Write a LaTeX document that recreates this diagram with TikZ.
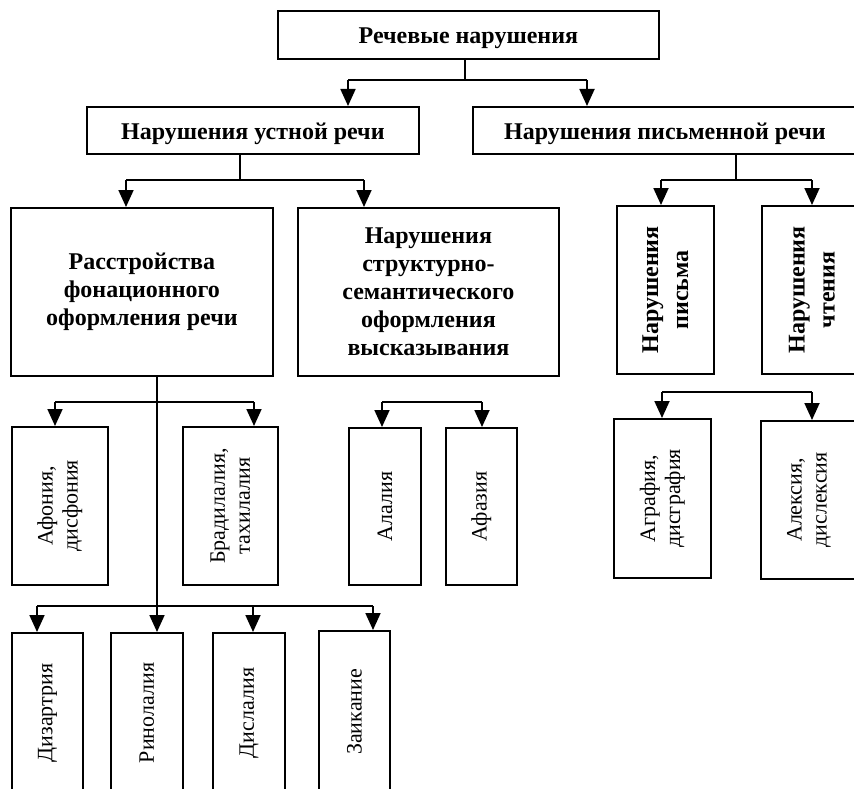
\documentclass[tikz,border=0pt]{standalone}
\usepackage{fontspec}
\setmainfont{Liberation Serif}
\usetikzlibrary{arrows.meta}
\begin{document}
\begin{tikzpicture}[x=1pt,y=-1pt,
  box/.style={draw, line width=1.8pt, inner sep=0pt, anchor=north west},
  conn/.style={line width=1.8pt},
  arr/.style={line width=1.8pt, -{Triangle[width=15pt,length=17pt]}},
  bt/.style={font=\bfseries\fontsize{24}{28}\selectfont, align=center},
  bt1/.style={bt, yshift=-3pt},
  rbt/.style={font=\bfseries\fontsize{24}{30}\selectfont, align=center, rotate=90},
  rt/.style={font=\fontsize{22}{25}\selectfont, align=center, rotate=90},
]
\useasboundingbox (0,0) rectangle (854,789);
\clip (0,0) rectangle (854,789);
% boxes
\node[box, minimum width=381pt, minimum height=48pt] (top) at (277,10) {};
\node[box, minimum width=332pt, minimum height=47pt] (l2a) at (86,106) {};
\node[box, minimum width=384pt, minimum height=47pt] (l2b) at (472,106) {};
\node[box, minimum width=262pt, minimum height=168pt] (l3a) at (10,207) {};
\node[box, minimum width=261pt, minimum height=168pt] (l3b) at (297,207) {};
\node[box, minimum width=97pt, minimum height=168pt] (l3c) at (616,205) {};
\node[box, minimum width=100pt, minimum height=168pt] (l3d) at (761,205) {};
\node[box, minimum width=96pt, minimum height=158pt] (b1) at (11,426) {};
\node[box, minimum width=95pt, minimum height=158pt] (b2) at (182,426) {};
\node[box, minimum width=72pt, minimum height=157pt] (b3) at (348,427) {};
\node[box, minimum width=71pt, minimum height=157pt] (b4) at (445,427) {};
\node[box, minimum width=97pt, minimum height=159pt] (b5) at (613,418) {};
\node[box, minimum width=96pt, minimum height=158pt] (b6) at (760,420) {};
\node[box, minimum width=71pt, minimum height=160pt] (c1) at (11,632) {};
\node[box, minimum width=72pt, minimum height=160pt] (c2) at (110,632) {};
\node[box, minimum width=72pt, minimum height=160pt] (c3) at (212,632) {};
\node[box, minimum width=71pt, minimum height=162pt] (c4) at (318,630) {};
% texts
\node[bt1] (ttop) at (top.center) {Речевые нарушения};
\node[bt1] (tl2a) at (l2a.center) {Нарушения устной речи};
\node[bt1] (tl2b) at (l2b.center) {Нарушения письменной речи};
\node[bt] (tl3a) at (l3a.center) {Расстройства\\фонационного\\оформления речи};
\node[bt] (tl3b) at (l3b.center) {Нарушения\\структурно-\\семантического\\оформления\\высказывания};
\node[rbt] (tl3c) at (l3c.center) {Нарушения\\письма};
\node[rbt] (tl3d) at (l3d.center) {Нарушения\\чтения};
\node[rt] (tb1) at (b1.center) {Афония,\\дисфония};
\node[rt] (tb2) at (b2.center) {Брадилалия,\\тахилалия};
\node[rt] (tb3) at (b3.center) {Алалия};
\node[rt] (tb4) at (b4.center) {Афазия};
\node[rt] (tb5) at (b5.center) {Аграфия,\\дисграфия};
\node[rt] (tb6) at (b6.center) {Алексия,\\дислексия};
\node[rt] (tc1) at (c1.center) {Дизартрия};
\node[rt] (tc2) at (c2.center) {Ринолалия};
\node[rt] (tc3) at (c3.center) {Дислалия};
\node[rt] (tc4) at (c4.center) {Заикание};
% connectors: top
\coordinate (j0) at (465,80);
\coordinate (j0a) at (348,80);
\coordinate (j0b) at (587,80);
\draw[conn] (top.south -| j0) -- (j0);
\draw[conn] (j0a) -- (j0b);
\draw[arr] (j0a) -- (j0a |- l2a.north);
\draw[arr] (j0b) -- (j0b |- l2b.north);
% l2a
\coordinate (j1) at (240,180);
\coordinate (j1a) at (126,180);
\coordinate (j1b) at (364,180);
\draw[conn] (l2a.south -| j1) -- (j1);
\draw[conn] (j1a) -- (j1b);
\draw[arr] (j1a) -- (j1a |- l3a.north);
\draw[arr] (j1b) -- (j1b |- l3b.north);
% l2b
\coordinate (j2) at (736,180);
\coordinate (j2a) at (661,180);
\coordinate (j2b) at (812,180);
\draw[conn] (l2b.south -| j2) -- (j2);
\draw[conn] (j2a) -- (j2b);
\draw[arr] (j2a) -- (j2a |- l3c.north);
\draw[arr] (j2b) -- (j2b |- l3d.north);
% l3a
\coordinate (j3) at (157,402);
\coordinate (j3a) at (55,402);
\coordinate (j3b) at (254,402);
\coordinate (j4) at (157,606);
\coordinate (j4a) at (37,606);
\coordinate (j4c) at (253,606);
\coordinate (j4d) at (373,606);
\draw[conn] (l3a.south -| j3) -- (j4);
\draw[conn] (j3a) -- (j3b);
\draw[arr] (j3a) -- (j3a |- b1.north);
\draw[arr] (j3b) -- (j3b |- b2.north);
\draw[conn] (j4a) -- (j4d);
\draw[arr] (j4a) -- (j4a |- c1.north);
\draw[arr] (j4) -- (j4 |- c2.north);
\draw[arr] (j4c) -- (j4c |- c3.north);
\draw[arr] (j4d) -- (j4d |- c4.north);
% l3b
\coordinate (j5a) at (382,402);
\coordinate (j5b) at (482,402);
\draw[conn] (j5a) -- (j5b);
\draw[arr] (j5a) -- (j5a |- b3.north);
\draw[arr] (j5b) -- (j5b |- b4.north);
% writing
\coordinate (j6a) at (662,392);
\coordinate (j6b) at (812,392);
\draw[conn] (j6a) -- (j6b);
\draw[arr] (j6a) -- (j6a |- b5.north);
\draw[arr] (j6b) -- (j6b |- b6.north);
\end{tikzpicture}
\end{document}
